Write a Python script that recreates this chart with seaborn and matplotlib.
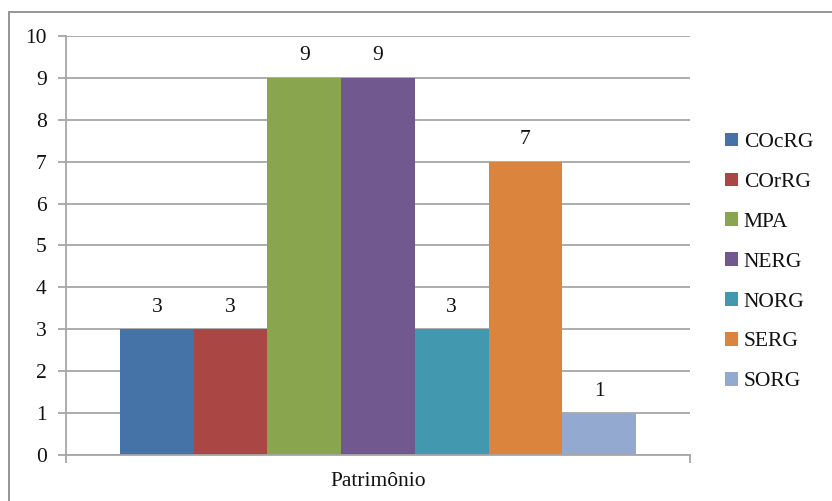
import numpy as np
import pandas as pd
import matplotlib.pyplot as plt
import seaborn as sns
from matplotlib.patches import Rectangle
from matplotlib.ticker import FixedLocator

# data
category = ["Patrimônio"]
series = ["COcRG", "COrRG", "MPA", "NERG", "NORG", "SERG", "SORG"]
values = [3, 3, 9, 9, 3, 7, 1]
colors = ["#4572A7", "#AA4643", "#89A54E", "#71588F", "#4198AF", "#DB843D", "#93A9CF"]

df = pd.DataFrame({"categoria": category * len(series), "serie": series, "valor": values})

sns.set_theme(style="white")
plt.rcParams["font.family"] = ["Liberation Serif", "DejaVu Serif"]
FS = 15.5

fig = plt.figure(figsize=(8.32, 5.01), dpi=100)
ax = fig.add_axes([66 / 832, 1 - 455 / 501, 624 / 832, 419 / 501])

sns.barplot(data=df, x="categoria", y="valor", hue="serie", hue_order=series,
            palette=colors, width=0.827, saturation=1, ax=ax, legend=True,
            edgecolor="none", linewidth=0)

ax.set_xlim(-0.5, 0.5)
ax.set_ylim(0, 10)
ax.set_yticks(range(0, 11))
ax.yaxis.grid(True, color="#A6A6A6", linewidth=1.3)
ax.set_axisbelow(True)
ax.set_xlabel("")
ax.set_ylabel("")
for s in ["top", "right"]:
    ax.spines[s].set_visible(False)
for s in ["left", "bottom"]:
    ax.spines[s].set_color("#A6A6A6")
    ax.spines[s].set_linewidth(1.3)
ax.tick_params(axis="y", length=6, width=1.3, color="#A6A6A6", left=True,
               labelsize=FS, pad=8, labelcolor="#111111")
ax.tick_params(axis="x", which="major", length=0, labelsize=FS, pad=12,
               labelcolor="#111111")
ax.xaxis.set_minor_locator(FixedLocator([-0.5, 0.5]))
ax.tick_params(axis="x", which="minor", bottom=True, length=6, width=1.3, color="#A6A6A6")

# data labels
for c in ax.containers:
    ax.bar_label(c, fmt="%d", padding=9, fontsize=FS, color="#111111")

# legend
handles, labels = ax.get_legend_handles_labels()
ax.get_legend().remove()
fig.legend(handles, labels, loc="center left", bbox_to_anchor=(706 / 832, 1 - 262 / 501),
           frameon=False, fontsize=FS, handlelength=0.6, handleheight=0.6,
           handletextpad=0.25, labelspacing=0.95, labelcolor="#111111")

# chart border
fig.patches.append(Rectangle((8.5 / 832, -0.1), 1.2, 1 - 11.5 / 501 + 0.1,
                             transform=fig.transFigure, fill=False,
                             edgecolor="#8C8C8C", linewidth=1.3))

fig.savefig("out.png", dpi=100)
